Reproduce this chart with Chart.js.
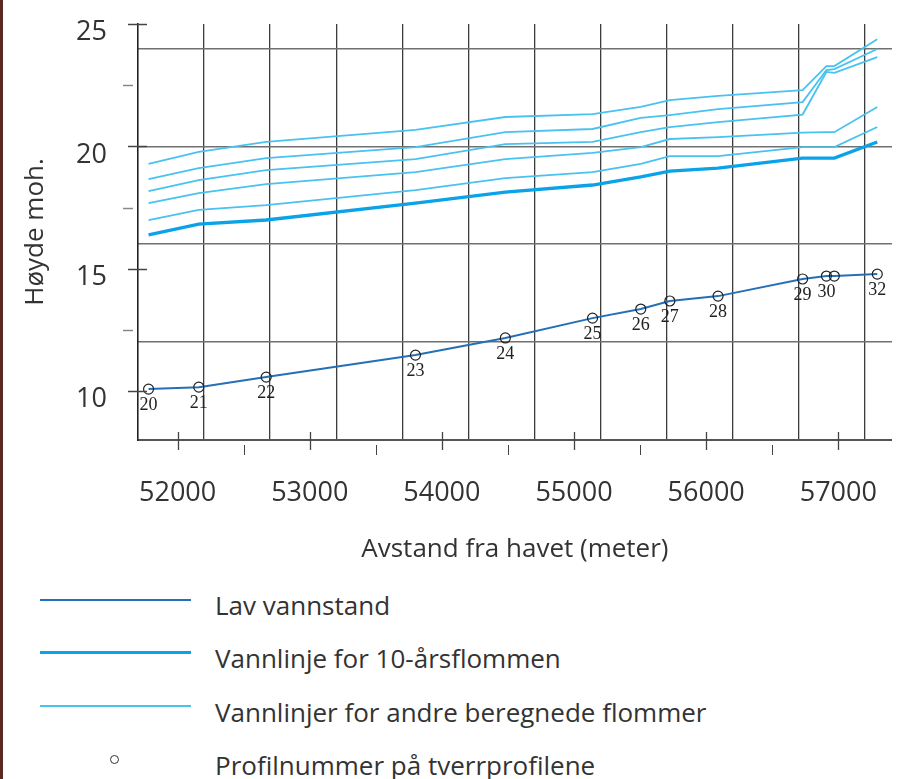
<!DOCTYPE html>
<html lang="no">
<head>
<meta charset="utf-8">
<title>Vannlinjer</title>
<script src="https://cdn.jsdelivr.net/npm/chart.js@4.4.1/dist/chart.umd.min.js"></script>
<style>
    html, body { margin: 0; padding: 0; background: #fff; }
    #wrap { position: relative; width: 898px; height: 779px; overflow: hidden; font-family: 'Open Sans', sans-serif; color: #333; }
    #edge { position: absolute; left: 0; top: 0; width: 3px; height: 779px; background: #5a2a22; }
    #chart { position: absolute; left: 0; top: 0; }
    .item { position: absolute; left: 0; width: 898px; height: 36px; }
    .swatch { position: absolute; left: 40px; width: 151px; }
    .dot { position: absolute; left: 110px; width: 7px; height: 7px; border: 1.3px solid #333; border-radius: 50%; }
    .text { position: absolute; left: 215px; top: 0; font-size: 26px; line-height: 36px; white-space: nowrap; }
</style>
</head>
<body>
<div id="wrap">
    <canvas id="chart" width="898" height="575"></canvas>
    <div id="legend"></div>
    <div id="edge"></div>
</div>
<script>
// profil 31 ligger oppå 30, bare "30" er skrevet ut
const profileNumbers = ['20', '21', '22', '23', '24', '25', '26', '27', '28', '29', '30', '', '32'];
const distance = [51780, 52160, 52670, 53800, 54480, 55140, 55505, 55725, 56090, 56730, 56910, 56970, 57295];
const lowWater = [10.08, 10.16, 10.57, 11.47, 12.17, 12.98, 13.35, 13.68, 13.88, 14.58, 14.70, 14.70, 14.78];
const flood10 = [16.38, 16.82, 16.99, 17.68, 18.13, 18.42, 18.75, 18.99, 19.11, 19.52, 19.52, 19.52, 20.18];
const floodA = [16.99, 17.40, 17.60, 18.21, 18.70, 18.95, 19.28, 19.60, 19.60, 19.97, 19.97, 19.97, 20.79];
const floodB = [17.68, 18.09, 18.46, 18.95, 19.48, 19.73, 19.97, 20.30, 20.38, 20.56, 20.58, 20.58, 21.61];
const floodC = [18.17, 18.62, 19.03, 19.48, 20.09, 20.18, 20.58, 20.79, 20.99, 21.30, 23.04, 23.00, 23.65];
const floodD = [18.66, 19.11, 19.52, 19.97, 20.58, 20.71, 21.16, 21.28, 21.52, 21.81, 23.12, 23.16, 23.98];
const floodE = [19.28, 19.77, 20.18, 20.67, 21.20, 21.32, 21.61, 21.89, 22.06, 22.30, 23.28, 23.28, 24.38];

const xTickValues = [52000, 53000, 54000, 55000, 56000, 57000];
const xMinorTicks = [52500, 53500, 54500, 55500, 56500];
const xGridValues = [52200, 52700, 53200, 53700, 54200, 54700, 55200, 55700, 56200, 56700, 57200];
const yTickValues = [10, 15, 20, 25];
const yMinorTicks = [12.5, 17.5, 22.5];
const yGridValues = [12, 16, 20, 24];

const X_MIN = 51700, X_MAX = 57405, Y_MIN = 8, Y_MAX = 25;
const FONT = 'Open Sans';

function toPoints(values) {
    return values.map((v, i) => ({x: distance[i], y: v}));
}

function thinLine(values) {
    return {
        label: 'Vannlinjer for andre beregnede flommer',
        data: toPoints(values),
        borderColor: '#48c2f0',
        borderWidth: 1.8,
        pointRadius: 0,
        order: 3
    };
}

// scales must not push the plot area in, it is fixed by layout.padding
function noPadding(s) {
    s.paddingTop = 0;
    s.paddingBottom = 0;
    s.paddingLeft = 0;
    s.paddingRight = 0;
}

const axisTicks = {
    id: 'axisTicks',
    afterDraw(chart) {
        const ctx = chart.ctx;
        const area = chart.chartArea;
        const x = chart.scales.x;
        const y = chart.scales.y;
        ctx.save();
        ctx.lineCap = 'butt';

        ctx.strokeStyle = '#444';
        ctx.lineWidth = 1.5;
        yTickValues.forEach(v => {
            const py = Math.round(y.getPixelForValue(v)) + 0.5;
            ctx.beginPath();
            ctx.moveTo(area.left - 10, py);
            ctx.lineTo(area.left + 9, py);
            ctx.stroke();
        });
        ctx.strokeStyle = '#888';
        yMinorTicks.forEach(v => {
            const py = Math.round(y.getPixelForValue(v)) + 0.5;
            ctx.beginPath();
            ctx.moveTo(area.left - 15, py);
            ctx.lineTo(area.left - 5, py);
            ctx.stroke();
        });

        ctx.strokeStyle = '#444';
        ctx.lineWidth = 1.3;
        xTickValues.forEach(v => {
            const px = Math.round(x.getPixelForValue(v)) + 0.5;
            ctx.beginPath();
            ctx.moveTo(px, area.bottom - 8);
            ctx.lineTo(px, area.bottom + 10);
            ctx.stroke();
        });
        ctx.lineWidth = 1;
        xMinorTicks.forEach(v => {
            const px = Math.round(x.getPixelForValue(v)) + 0.5;
            ctx.beginPath();
            ctx.moveTo(px, area.bottom + 5);
            ctx.lineTo(px, area.bottom + 15);
            ctx.stroke();
        });
        ctx.restore();
    }
};

const profileLabels = {
    id: 'profileLabels',
    afterDatasetsDraw(chart) {
        const index = chart.data.datasets.findIndex(ds => ds.showLine === false);
        const meta = chart.getDatasetMeta(index);
        const ctx = chart.ctx;
        ctx.save();
        ctx.font = '18px "Liberation Serif", serif';
        ctx.fillStyle = '#222';
        ctx.textAlign = 'center';
        ctx.textBaseline = 'middle';
        meta.data.forEach((pt, i) => {
            ctx.fillText(profileNumbers[i], pt.x, pt.y + 16);
        });
        ctx.restore();
    }
};

const chart = new Chart(document.getElementById('chart'), {
    type: 'line',
    data: {
        datasets: [
            {
                label: 'Lav vannstand',
                data: toPoints(lowWater),
                borderColor: '#2470b8',
                borderWidth: 2,
                pointRadius: 0,
                order: 1
            },
            {
                label: 'Vannlinje for 10-årsflommen',
                data: toPoints(flood10),
                borderColor: '#0aa3e8',
                borderWidth: 3.3,
                pointRadius: 0,
                order: 2
            },
            thinLine(floodA),
            thinLine(floodB),
            thinLine(floodC),
            thinLine(floodD),
            thinLine(floodE),
            {
                label: 'Profilnummer på tverrprofilene',
                data: toPoints(lowWater),
                showLine: false,
                pointRadius: 5,
                pointBorderWidth: 1.2,
                pointBorderColor: '#222',
                pointBackgroundColor: 'rgba(255,255,255,0)',
                order: 0
            }
        ]
    },
    options: {
        responsive: false,
        animation: false,
        events: [],
        layout: {padding: {top: 24, right: 0, bottom: 0, left: 0}},
        elements: {line: {tension: 0}},
        plugins: {
            legend: {display: false},
            tooltip: {enabled: false}
        },
        scales: {
            x: {
                type: 'linear',
                position: 'bottom',
                min: X_MIN,
                max: X_MAX,
                afterBuildTicks: s => { s.ticks = xTickValues.map(v => ({value: v})); },
                afterFit: s => { s.height = 135; noPadding(s); },
                grid: {display: false, drawTicks: false},
                border: {display: true, color: '#555', width: 2},
                ticks: {
                    padding: 37,
                    color: '#333',
                    maxRotation: 0,
                    autoSkip: false,
                    font: {family: FONT, size: 27},
                    callback: v => String(v)
                },
                title: {
                    display: true,
                    text: 'Avstand fra havet (meter)',
                    color: '#333',
                    font: {family: FONT, size: 26},
                    padding: {top: 0, bottom: 10}
                }
            },
            xGrid: {
                type: 'linear',
                position: 'top',
                min: X_MIN,
                max: X_MAX,
                afterBuildTicks: s => { s.ticks = xGridValues.map(v => ({value: v})); },
                afterFit: s => { s.height = 0; noPadding(s); },
                ticks: {display: false},
                border: {display: false},
                grid: {drawTicks: false, color: '#3c3c3c', lineWidth: 1.3}
            },
            y: {
                type: 'linear',
                position: 'left',
                min: Y_MIN,
                max: Y_MAX,
                afterBuildTicks: s => { s.ticks = yTickValues.map(v => ({value: v})); },
                afterFit: s => { s.width = 138; noPadding(s); },
                grid: {display: false, drawTicks: false},
                border: {display: true, color: '#222', width: 1.6},
                ticks: {
                    padding: 31,
                    labelOffset: 8.5,
                    color: '#333',
                    font: {family: FONT, size: 27}
                },
                title: {
                    display: true,
                    text: 'Høyde moh.',
                    color: '#333',
                    font: {family: FONT, size: 26},
                    padding: {top: 20, bottom: 0}
                }
            },
            yGrid: {
                type: 'linear',
                position: 'right',
                min: Y_MIN,
                max: Y_MAX,
                afterBuildTicks: s => { s.ticks = yGridValues.map(v => ({value: v})); },
                afterFit: s => { s.width = 0; noPadding(s); },
                ticks: {display: false},
                border: {display: false},
                grid: {drawTicks: false, color: '#707070', lineWidth: 1.5}
            }
        }
    },
    plugins: [axisTicks, profileLabels]
});

// forklaring under diagrammet, bygd fra datasettene
const legendEl = document.getElementById('legend');
const seen = [];
chart.data.datasets.forEach(ds => {
    if (seen.includes(ds.label)) return;
    seen.push(ds.label);
    const row = document.createElement('div');
    row.className = 'item';
    row.style.top = (587 + (seen.length - 1) * 53.3) + 'px';

    if (ds.showLine === false) {
        const dot = document.createElement('div');
        dot.className = 'dot';
        dot.style.top = '8px';
        row.appendChild(dot);
    } else {
        const line = document.createElement('div');
        line.className = 'swatch';
        line.style.height = ds.borderWidth + 'px';
        line.style.top = (12.5 - ds.borderWidth / 2) + 'px';
        line.style.background = ds.borderColor;
        row.appendChild(line);
    }
    const text = document.createElement('div');
    text.className = 'text';
    text.textContent = ds.label;
    row.appendChild(text);
    legendEl.appendChild(row);
});
</script>
</body>
</html>
